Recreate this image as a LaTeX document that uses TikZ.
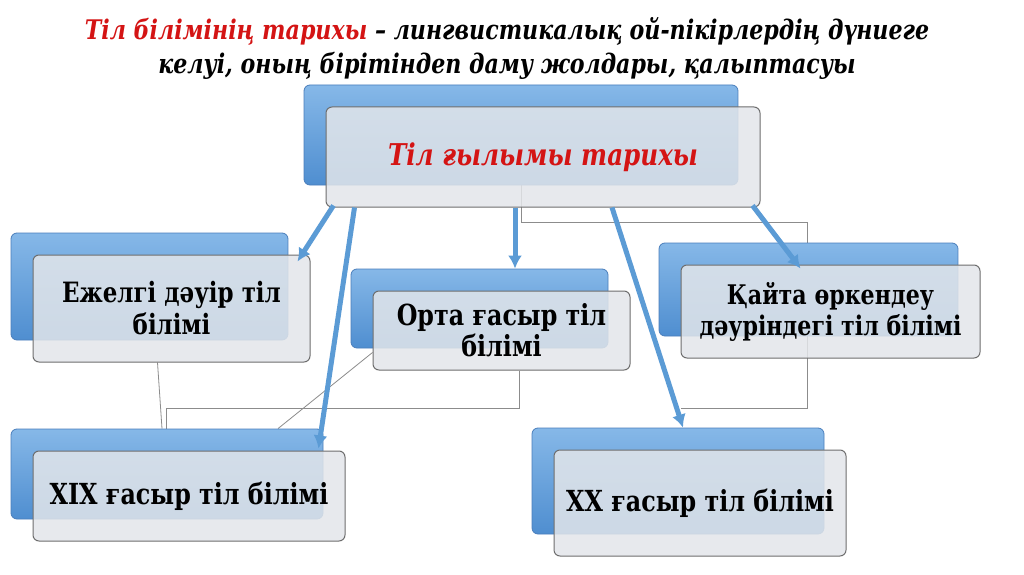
\documentclass[tikz,border=0pt]{standalone}
\usepackage{fontspec}
\setmainfont{DejaVu Serif}[FakeStretch=0.82]
\usetikzlibrary{backgrounds}
\usetikzlibrary{shapes,shadows,arrows,arrows.meta}
\definecolor{arrowblue}{HTML}{5B9BD5}
\definecolor{backtop}{HTML}{86B8E8}
\definecolor{backbot}{HTML}{4F8ED0}
\definecolor{backedge}{HTML}{4A7EBB}
\definecolor{frontfill}{HTML}{E3E6EA}
\definecolor{frontedge}{HTML}{6E6E6E}
\definecolor{linegrey}{HTML}{8C8C8C}
\definecolor{titlered}{HTML}{D41414}
\tikzstyle{line} = [draw, -{Latex[length=13pt,width=14pt]}, line width=5pt, color=arrowblue]
\tikzstyle{thin} = [draw, color=linegrey, line width=0.8pt]
\tikzstyle{box_back} = [rectangle, rounded corners=6pt, draw=backedge, top color=backtop, bottom color=backbot, line width=0.8pt]
\tikzstyle{box_front} = [rectangle, rounded corners=6pt, draw=frontedge, fill=frontfill, fill opacity=0.85, text opacity=1, line width=1pt, align=center, node distance=22pt, font=\fontsize{28}{32}\selectfont\bfseries]

\begin{document}
\begin{tikzpicture}[x=1pt, y=1pt]
		\begin{scope}[on background layer]
		\fill [white] (0,0) rectangle (1024,574);
		\end{scope}
		\useasboundingbox (0,0) rectangle (1024,574);
		
		\node [font=\fontsize{27}{34}\selectfont\bfseries\itshape, align=center] (title) at (507,526) {\textcolor{titlered}{Тіл білімінің тарихы} – лингвистикалық ой-пікірлердің дүниеге\\келуі, оның бірітіндеп даму жолдары, қалыптасуы};
		
		\node [box_back, minimum width=434, minimum height=100] (topB) at (521,439) {};
		\node [box_front, right of=topB, yshift=-22pt, minimum width=434, minimum height=100, text=titlered, font=\fontsize{30}{36}\selectfont\bfseries\itshape] (top) {Тіл ғылымы тарихы};
		
		\node [box_back, minimum width=277, minimum height=107] (ezhB) at (149.5,287.5) {};
		\node [box_front, right of=ezhB, yshift=-22pt, minimum width=277, minimum height=107] (ezh) {Ежелгі дәуір тіл\\білімі};
		
		\node [box_back, minimum width=257, minimum height=79] (ortaB) at (479.5,265.5) {};
		\node [box_front, right of=ortaB, yshift=-22pt, minimum width=257, minimum height=79, font=\fontsize{29}{31}\selectfont\bfseries] (orta) {Орта ғасыр тіл\\білімі};
		
		\node [box_back, minimum width=299, minimum height=93] (qaytaB) at (808.5,284.5) {};
		\node [box_front, right of=qaytaB, yshift=-22pt, minimum width=299, minimum height=93, font=\fontsize{27}{31}\selectfont\bfseries] (qayta) {Қайта өркендеу\\дәуріндегі тіл білімі};
		
		\node [box_back, minimum width=312, minimum height=90] (xixB) at (167,100) {};
		\node [box_front, right of=xixB, yshift=-22pt, minimum width=312, minimum height=90, font=\fontsize{29}{32}\selectfont\bfseries] (xix) {XIX ғасыр тіл білімі};
		
		\node [box_back, minimum width=292, minimum height=106] (xxB) at (678,93) {};
		\node [box_front, right of=xxB, yshift=-22pt, minimum width=292, minimum height=106, font=\fontsize{29}{32}\selectfont\bfseries] (xx) {XX ғасыр тіл білімі};
		
		% grey lines behind the boxes
		\coordinate (r1) at (807,352);
		\coordinate (r2) at (681,166);
		\coordinate (m1) at (166,166);
		\begin{scope}[on background layer]
		\path [thin] (topB.south) |- (r1) |- (r2);
		\path [thin] ([xshift=18pt]orta.south) |- (m1) -- (m1 |- xixB.north);
		\path [thin] ([xshift=-14pt]ezh.south) -- ([xshift=-5pt]xixB.north);
		\path [thin] ([yshift=-22pt]orta.west) -- ([xshift=111pt]xixB.north);
		\end{scope}
		
		\path [line] ([xshift=8pt,yshift=2pt]top.south west) -- ([xshift=-13pt,yshift=-7pt]ezh.north east);
		\path [line] ([xshift=29pt]top.south west) -- ([xshift=-27pt,yshift=2pt]xix.north east);
		\path [line] ([xshift=-28pt]top.south) -- ([xshift=-28pt]top.south |- ortaB.north);
		\path [line] ([xshift=69pt]top.south) -- ([xshift=5pt]xxB.north);
		\path [line] ([xshift=-8pt,yshift=2pt]top.south east) -- ([xshift=-30pt,yshift=-4pt]qayta.north);
\end{tikzpicture}
\end{document}
